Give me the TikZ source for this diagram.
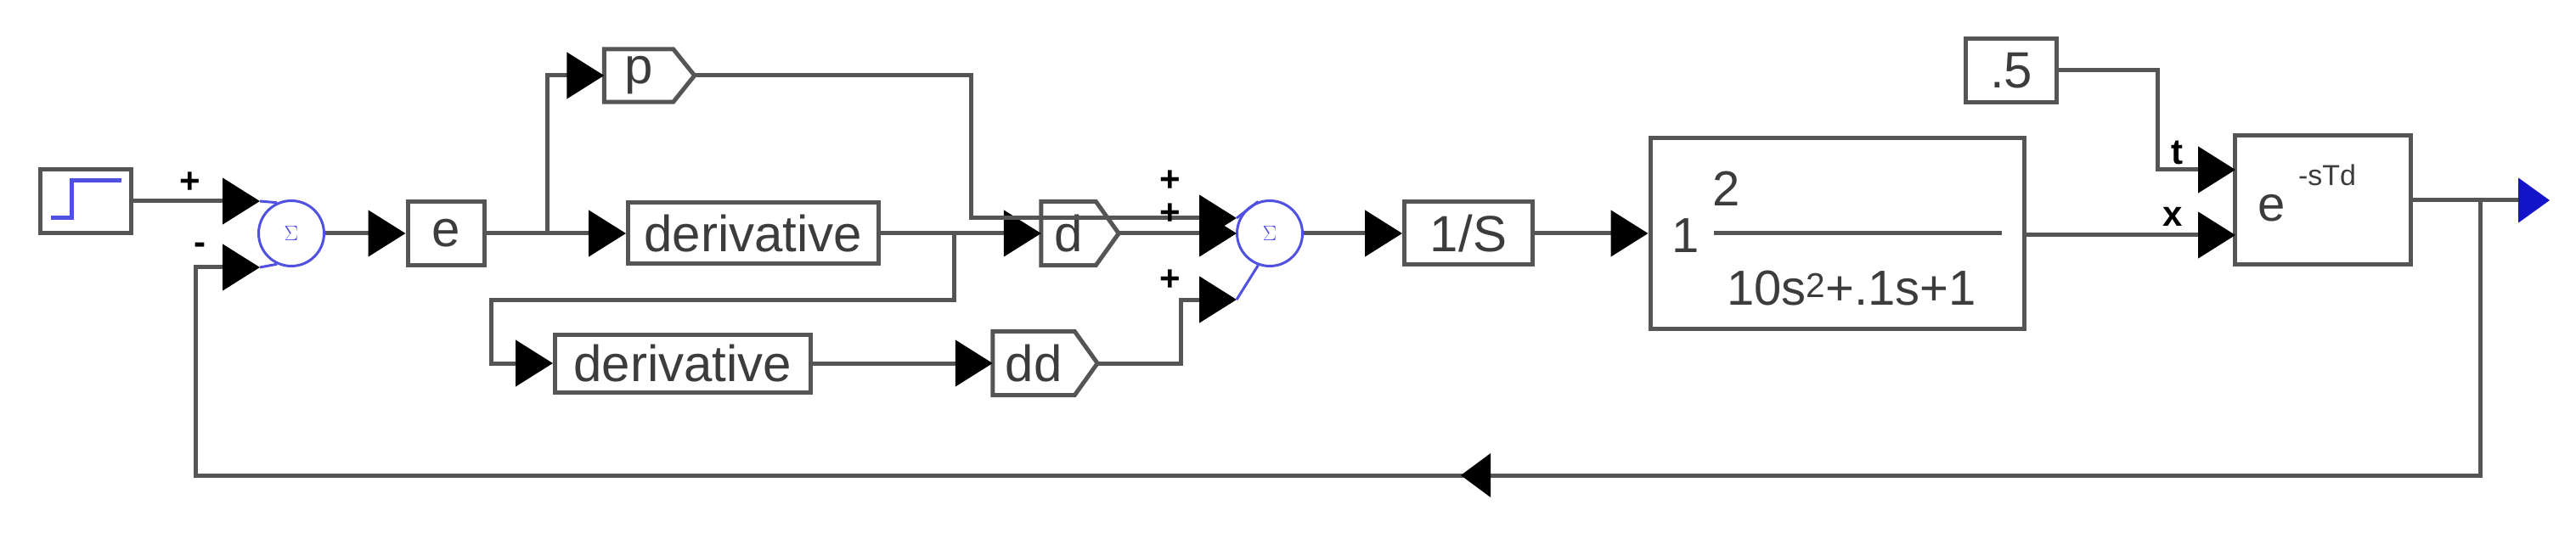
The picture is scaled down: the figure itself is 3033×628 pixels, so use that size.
\documentclass[tikz,border=0pt]{standalone}
\usepackage{fontspec}
\setmainfont{Liberation Sans}
\usetikzlibrary{arrows.meta,calc}
\definecolor{lc}{RGB}{85,85,85}
\definecolor{tc}{RGB}{60,60,60}
\definecolor{sb}{RGB}{80,80,225}
\definecolor{ob}{RGB}{20,20,200}
\begin{document}
\begin{tikzpicture}[x=1pt,y=-1pt,
  ln/.style={draw=lc,line width=5pt},
  arr/.style={ln,-{Triangle[length=44pt,width=54pt,color=black]}},
  blk/.style={draw=lc,line width=5pt,fill=white,inner sep=0pt,text=tc,font=\fontsize{60}{62}\selectfont},
  tag/.style={draw=none,inner sep=0pt,text=tc,font=\fontsize{60}{62}\selectfont},
  sgn/.style={inner sep=0pt,text=black,font=\bfseries\fontsize{42}{44}\selectfont},
  sum/.style={circle,draw=sb,line width=3pt,minimum size=77pt,inner sep=0pt,text=sb,font=\fontsize{56}{58}\selectfont},
  txt/.style={inner sep=0pt,text=tc,font=\fontsize{58}{60}\selectfont}]
\useasboundingbox (0,0) rectangle (3033,628);
% blocks
\node[blk,minimum width=107pt,minimum height=75pt] (step) at (101,237) {};
\draw[sb,line width=5pt] (60,257) -- (84,257) -- (84,213) -- (143,213);
\node[sum] (sum1) at (343,275) {$\Sigma$};
\node[blk,minimum width=90pt,minimum height=75pt] (e) at (525,275) {e};
\node[blk,minimum width=295pt,minimum height=72pt] (der1) at (887,275) {derivative};
\node[blk,minimum width=301pt,minimum height=68pt] (der2) at (804,428) {derivative};
\node[tag,minimum width=81pt,minimum height=62pt] (p) at (752,89) {p};
\node[tag,minimum width=64pt,minimum height=75pt] (d) at (1258,275) {d};
\node[tag,minimum width=96pt,minimum height=75pt] (dd) at (1217,428) {dd};
\foreach \n/\t in {p/25,d/27,dd/27}{
  \draw[ln] (\n.north west) -- (\n.north east) -- ($(\n.east)+(\t,0)$) -- (\n.south east) -- (\n.south west) -- cycle;
  \coordinate (\n tip) at ($(\n.east)+(\t,0)$);}
\node[sum] (sum2) at (1495,275) {$\Sigma$};
\node[blk,minimum width=151pt,minimum height=74pt] (is) at (1729,275) {1/S};
\node[blk,minimum width=440pt,minimum height=225pt] (tf) at (2163,275) {};
\node[txt] (tf1) at (1985,278) {1};
\node[txt] (tf2) at (2033,222) {2};
\draw[ln] (2018,275) -- (2357,275);
\node[txt] (tf3) at (2180,340) {10s\textsuperscript{2}+.1s+1};
\node[blk,minimum width=107pt,minimum height=75pt] (half) at (2368,83) {.5};
\node[blk,minimum width=207pt,minimum height=152pt] (ed) at (2735,236) {};
\node[txt] (ede) at (2675,245) {e};
\node[inner sep=0pt,text=tc,font=\fontsize{34}{36}\selectfont] (eds) at (2740,206) {-sTd};
% coordinates
\coordinate (s1a) at (306,237);
\coordinate (s1b) at (306,315);
\coordinate (br1) at (644,275);
\coordinate (j1) at (1123,275);
\coordinate (j2) at (1123,353);
\coordinate (j3) at (578,353);
\coordinate (p1) at (1143,89);
\coordinate (p2) at (1143,257);
\coordinate (s2a) at (1456,257);
\coordinate (s2b) at (1456,275);
\coordinate (s2c) at (1456,353);
\coordinate (dd1) at (1390,428);
\coordinate (dd2) at (1390,353);
\coordinate (h1) at (2540,83);
\coordinate (h2) at (2540,200);
\coordinate (tin) at (2632,200);
\coordinate (xin) at (2632,277);
\coordinate (fb1) at (2920,236);
\coordinate (fb2) at (2920,560);
\coordinate (fb3) at (230,560);
\coordinate (fb4) at (230,315);
\coordinate (outp) at (3002,236);
% connectors
\draw[arr] (step.east) -- (s1a);
\draw[arr] (fb1) -- (fb2) -- (fb3) -- (fb4) -- (s1b);
\draw[sb,line width=3pt] (s1a) -- (sum1.115) (s1b) -- (sum1.245);
\draw[arr] (sum1) -- (e);
\draw[arr] (e) -- (der1);
\draw[arr] (br1) |- (p.west);
\draw[arr] (der1) -- (d);
\draw[arr] (j1) -- (j2) -- (j3) |- (der2.west);
\draw[arr] (der2) -- (dd);
\draw[arr] (ptip) -- (p1) -- (p2) -- (s2a);
\draw[arr] (dtip) -- (s2b);
\draw[arr] (ddtip) -- (dd1) -- (dd2) -- (s2c);
\draw[sb,line width=3pt] (s2a) -- (sum2.110) (s2c) -- (sum2.250);
\draw[arr] (sum2) -- (is);
\draw[arr] (is) -- (tf);
\draw[arr] (half) -- (h1) -- (h2) -- (tin);
\draw[arr] (tf.east |- xin) -- (xin);
\draw[ln,-{Triangle[length=37pt,width=52pt,color=ob]}] (ed.east) -- (outp);
\fill (1720,560) -- (1755,534) -- (1755,586) -- cycle;
% signs
\node[sgn] at (224,215) {+};
\node[sgn] at (235,293) {-};
\node[sgn] at (1378,213) {+};
\node[sgn] at (1378,252) {+};
\node[sgn] at (1378,330) {+};
\node[sgn] at (2563,180) {t};
\node[sgn] at (2558,255) {x};
\end{tikzpicture}
\end{document}
